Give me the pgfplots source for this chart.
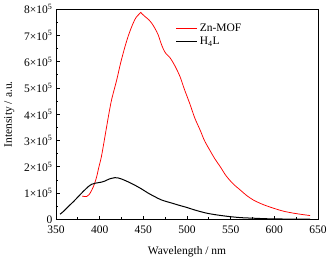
\documentclass[border=0pt]{standalone}
\usepackage{fontspec}
\setmainfont{Liberation Serif}
\usepackage{pgfplots}
\pgfplotsset{compat=1.18}
\usetikzlibrary{calc}
\begin{document}
\begin{tikzpicture}
\begin{axis}[
  scale only axis,
  width=262pt, height=210.5pt,
  xmin=350, xmax=650, ymin=0, ymax=8,
  xtick={350,400,...,650},
  minor x tick num=1,
  ytick={0,1,...,8},
  yticklabels={0,1×10\textsuperscript{5},2×10\textsuperscript{5},3×10\textsuperscript{5},4×10\textsuperscript{5},5×10\textsuperscript{5},6×10\textsuperscript{5},7×10\textsuperscript{5},8×10\textsuperscript{5}},
  minor y tick num=1,
  tick align=inside,
  xtick pos=bottom, ytick pos=left,
  major tick length=4pt, minor tick length=2.5pt,
  tick style={black, line width=0.8pt},
  axis line style={line width=0.9pt},
  /pgf/number format/assume math mode=true,
  xticklabel style={font=\fontsize{11.5}{13}\selectfont, yshift=-3pt},
  yticklabel style={font=\fontsize{11.5}{13}\selectfont, xshift=0pt},
  xlabel={Wavelength / nm},
  ylabel={Intensity / a.u.},
  label style={font=\fontsize{11.5}{13}\selectfont},
  xlabel style={yshift=-6pt},
  ylabel style={yshift=3pt},
  legend style={draw=none, fill=none, at={(rel axis cs:0.445,0.95)}, anchor=north west, font=\fontsize{11.5}{13}\selectfont, row sep=0pt},
  legend cell align=left,
  legend image code/.code={\draw[#1] (0pt,0pt) -- (21pt,0pt);},
]
\addplot[red, line width=0.75pt, smooth] coordinates {
(380,0.89) (385,0.87) (388,0.95) (391,1.12) (394,1.35) (396.6,1.63) (399,1.98) (402,2.39) (405,2.95) (408,3.53)
(411,4.10) (414,4.60) (419.5,5.30) (424,5.95) (429,6.57) (433,7.00) (436.7,7.33) (440,7.58) (442.4,7.71)
(445,7.80) (447,7.87) (449,7.80) (452,7.71) (456,7.60) (459.6,7.46) (463,7.28) (467,7.02) (470,6.72) (473,6.47)
(476,6.30) (480.5,6.15) (486,5.85) (492,5.43) (497,4.95) (503,4.42) (509,3.85) (515,3.40) (520,3.00) (526,2.64)
(532,2.30) (538,2.01) (545,1.65) (553,1.35) (561,1.12) (568,0.92) (576,0.74) (587,0.57) (599,0.43) (610,0.32)
(622,0.24) (632,0.19) (641,0.15)
};
\addlegendentry{Zn-MOF}
\addplot[black, line width=1pt, smooth] coordinates {
(354.6,0.20) (359,0.32) (364,0.49) (370,0.68) (375.5,0.87) (381,1.06) (387,1.25) (391,1.34) (395,1.38) (398.5,1.40)
(402,1.42) (406,1.46) (411,1.54) (417.5,1.59) (421,1.58) (425,1.54) (432,1.44) (440,1.31) (448,1.16) (455.7,1.00)
(463,0.87) (471,0.74) (484,0.61) (492,0.53) (499.6,0.46) (510,0.35) (522.6,0.24) (535,0.17) (549,0.11) (562,0.07)
(575.6,0.05) (590,0.03) (606.5,0.02) (625,0.015) (641,0.01)
};
\addlegendentry{H\textsubscript{4}L}
\coordinate (sw) at (rel axis cs:0,0);
\end{axis}
\pgfresetboundingbox
\path[use as bounding box] ($(sw)+(-56pt,-40.5pt)$) rectangle ($(sw)+(279pt,219.5pt)$);
\end{tikzpicture}
\end{document}
